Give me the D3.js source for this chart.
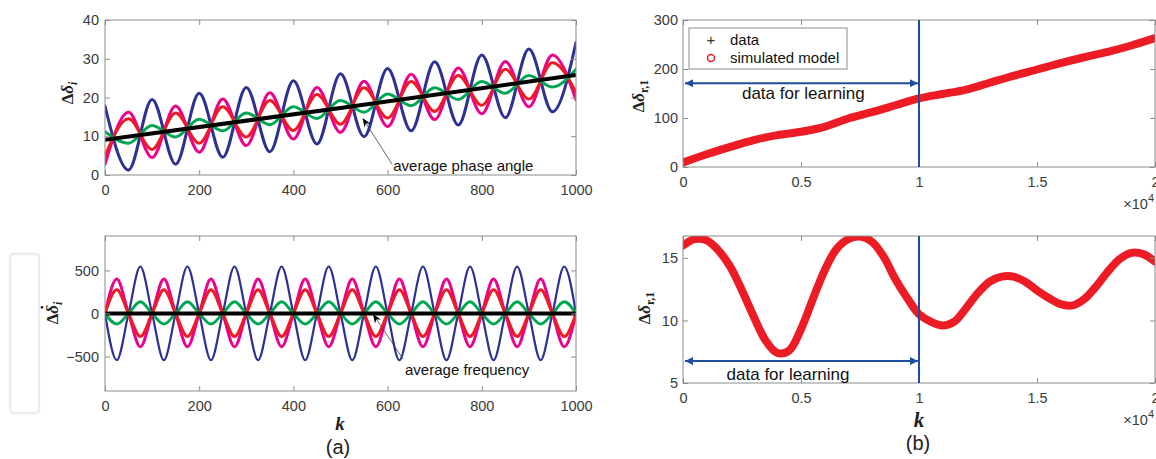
<!DOCTYPE html>
<html>
<head>
<meta charset="utf-8">
<script src="https://cdn.jsdelivr.net/npm/d3@7"></script>
<style>
  body { margin: 0; background: #fff; }
  svg text { font-family: "Liberation Sans", Arial, Helvetica, sans-serif; }
</style>
</head>
<body>
<svg id="chart" width="1156" height="459"></svg>
<script>
// ---- (a) top: phase angles, read at the extrema (every 50 steps)
const kPhase = [0,50,100,150,200,250,300,350,400,450,500,550,600,650,700,750,800,850,900,950,1000];
const phaseBlue    = [17.8,1.3,19.5,2.8,21.1,4.6,22.6,6.0,24.3,8.0,26.1,9.9,27.5,11.4,29.2,12.9,31.0,14.8,32.5,16.3,34.2];
const phaseMagenta = [2.8,16.2,4.5,17.8,5.9,19.6,7.6,21.2,9.3,22.6,11.0,24.2,12.5,26.0,14.3,27.6,15.8,29.3,17.6,31.0,19.4];
const phaseRed     = [4.9,14.5,6.6,16.0,8.2,17.6,9.8,19.2,11.5,20.8,13.1,22.5,14.7,24.1,16.4,25.7,18.0,27.3,19.6,29.0,21.3];
const phaseGreen   = [11.2,8.2,12.8,9.8,14.4,11.4,16.0,13.0,17.6,14.6,19.2,16.2,20.9,17.9,22.5,19.5,24.1,21.1,25.7,22.7,27.3];
const kAvg = [0, 500, 1000];
const phaseAvg = [9.1, 17.3, 25.8];

// ---- (a) bottom: frequencies, read at zeros and extrema (every 25 steps)
const kFreq = [0,25,50,75,100,125,150,175,200,225,250,275,300,325,350,375,400,425,450,475,500,
               525,550,575,600,625,650,675,700,725,750,775,800,825,850,875,900,925,950,975,1000];
const freqBlue    = [0,-542,0,546,0,-542,0,546,0,-542,0,546,0,-542,0,546,0,-542,0,546,0,-542,0,546,0,-542,0,546,0,-542,0,546,0,-542,0,546,0,-542,0,546,0];
const freqMagenta = [0,400,0,-387,0,400,0,-387,0,400,0,-387,0,400,0,-387,0,400,0,-387,0,400,0,-387,0,400,0,-387,0,400,0,-387,0,400,0,-387,0,400,0,-387,0];
const freqRed     = [0,276,0,-267,0,276,0,-267,0,276,0,-267,0,276,0,-267,0,276,0,-267,0,276,0,-267,0,276,0,-267,0,276,0,-267,0,276,0,-267,0,276,0,-267,0];
const freqGreen   = [0,-123,0,136,0,-123,0,136,0,-123,0,136,0,-123,0,136,0,-123,0,136,0,-123,0,136,0,-123,0,136,0,-123,0,136,0,-123,0,136,0,-123,0,136,0];
const freqAvg = [0, 0];
const kFreqAvg = [0, 1000];

// ---- (b) top: cumulative angle, every 1000 steps
const kTop = [0,1000,2000,3000,4000,5000,6000,7000,8000,9000,10000,11000,12000,13000,14000,15000,16000,17000,18000,19000,20000];
const angleTop = [9,26,41,55,65,72,82,99,112,126,140,149,158,172,186,199,212,224,235,248,263];

// ---- (b) bottom: every 500 steps
const kBot = [0,500,1000,1500,2000,2500,3000,3500,4000,4500,5000,5500,6000,6500,7000,7500,8000,8500,9000,9500,10000,
              10500,11000,11500,12000,12500,13000,13500,14000,14500,15000,15500,16000,16500,17000,17500,18000,18500,19000,19500,20000];
const angleBot = [16.0,16.5,16.4,15.6,14.3,12.4,10.3,8.4,7.4,7.6,9.3,11.7,14.0,15.7,16.5,16.7,16.3,15.1,13.3,11.8,10.5,
                  9.9,9.6,9.9,11.0,12.2,13.1,13.5,13.5,13.1,12.4,11.8,11.3,11.2,11.7,12.7,13.9,14.9,15.4,15.3,14.7];

const learnEnd = 10000;

const svg = d3.select('#chart');
const defs = svg.append('defs');

// arrow heads
defs.append('marker').attr('id', 'blackHead')
    .attr('viewBox', '0 0 10 10').attr('refX', 9).attr('refY', 5)
    .attr('markerWidth', 9).attr('markerHeight', 9).attr('markerUnits', 'userSpaceOnUse')
    .attr('orient', 'auto')
  .append('path').attr('d', 'M0,1 L10,5 L0,9 L3,5 Z').attr('fill', '#000');
defs.append('marker').attr('id', 'blueHead')
    .attr('viewBox', '0 0 10 10').attr('refX', 10).attr('refY', 5)
    .attr('markerWidth', 10).attr('markerHeight', 8).attr('markerUnits', 'userSpaceOnUse')
    .attr('orient', 'auto-start-reverse')
  .append('path').attr('d', 'M0,0 L10,5 L0,10 Z').attr('fill', '#1d4f9e');

class Panel {

  constructor(_config) {
    this.config = {
      id: _config.id,
      left: _config.left,
      top: _config.top,
      width: _config.width,
      height: _config.height,
      xDomain: _config.xDomain,
      yDomain: _config.yDomain,
      xTicks: _config.xTicks,
      yTicks: _config.yTicks,
      xFormat: _config.xFormat || (d => d),
      yPad: _config.yPad || 6
    };
    this.initVis();
  }

  initVis() {
    let vis = this;
    let c = vis.config;

    vis.xScale = d3.scaleLinear().domain(c.xDomain).range([0, c.width]);
    vis.yScale = d3.scaleLinear().domain(c.yDomain).range([c.height, 0]);

    vis.g = svg.append('g').attr('transform', `translate(${c.left},${c.top})`);

    defs.append('clipPath').attr('id', 'clip-' + c.id)
      .append('rect').attr('width', c.width).attr('height', c.height);

    vis.plot = vis.g.append('g').attr('clip-path', `url(#clip-${c.id})`);

    // axes, ticks pointing inwards on all four sides
    const styleAxis = sel => {
      sel.select('.domain').remove();
      sel.selectAll('line').attr('stroke', '#8c8c8c');
      sel.selectAll('text').attr('fill', '#3a3a3a').style('font-size', '14.5px');
    };
    vis.g.append('g').attr('transform', `translate(0,${c.height})`)
      .call(d3.axisBottom(vis.xScale).tickValues(c.xTicks).tickFormat(c.xFormat).tickSizeInner(-5).tickSizeOuter(0).tickPadding(10))
      .call(styleAxis);
    vis.g.append('g')
      .call(d3.axisTop(vis.xScale).tickValues(c.xTicks).tickFormat('').tickSizeInner(-5).tickSizeOuter(0))
      .call(styleAxis);
    vis.g.append('g')
      .call(d3.axisLeft(vis.yScale).tickValues(c.yTicks).tickSizeInner(-5).tickSizeOuter(0).tickPadding(c.yPad))
      .call(styleAxis);
    vis.g.append('g').attr('transform', `translate(${c.width},0)`)
      .call(d3.axisRight(vis.yScale).tickValues(c.yTicks).tickFormat('').tickSizeInner(-5).tickSizeOuter(0))
      .call(styleAxis);

    vis.g.append('rect')
      .attr('width', c.width).attr('height', c.height)
      .attr('fill', 'none').attr('stroke', '#8c8c8c').attr('stroke-width', 1);
  }

  line(xs, ys, color, width, curve) {
    let vis = this;
    const pts = xs.map((x, i) => [x, ys[i]]);
    vis.plot.append('path')
      .datum(pts)
      .attr('fill', 'none')
      .attr('stroke', color)
      .attr('stroke-width', width)
      .attr('stroke-linecap', 'round')
      .attr('stroke-linejoin', 'round')
      .attr('d', d3.line().x(d => vis.xScale(d[0])).y(d => vis.yScale(d[1])).curve(curve || d3.curveMonotoneX));
  }

  // rotated label "Δδ_sub", optionally with a dot over the δ
  yLabel(x, y, sub, dotted) {
    let lg = svg.append('g').attr('transform', `translate(${x},${y}) rotate(-90)`);
    let t = lg.append('text')
      .attr('text-anchor', 'middle')
      .style('font-family', '"Liberation Serif", "DejaVu Serif", serif')
      .style('font-weight', 'bold')
      .style('font-size', '17px')
      .attr('fill', '#222');
    t.append('tspan').text('Δ');
    t.append('tspan').text('δ').style('font-style', 'italic');
    t.append('tspan').text(sub.t).attr('dy', 4).style('font-size', '12px')
      .style('font-style', sub.italic ? 'italic' : 'normal');
    if (dotted) {
      const box = t.node().getExtentOfChar(1);
      lg.append('circle')
        .attr('cx', box.x + box.width / 2 + 2).attr('cy', box.y - 1)
        .attr('r', 1.4).attr('fill', '#222');
    }
  }
}

const blue = '#2e3192', magenta = '#ec008c', red = '#ed1c24', green = '#00a651';

// ---------- (a) top
const pa1 = new Panel({ id: 'a1', left: 105, top: 20, width: 471, height: 155,
  xDomain: [0, 1000], yDomain: [0, 40], xTicks: [0,200,400,600,800,1000], yTicks: [0,10,20,30,40] });
pa1.line(kPhase, phaseBlue, blue, 3);
pa1.line(kPhase, phaseMagenta, magenta, 3);
pa1.line(kPhase, phaseRed, red, 3);
pa1.line(kPhase, phaseGreen, green, 3);
pa1.line(kAvg, phaseAvg, '#000', 4, d3.curveLinear);
pa1.yLabel(73, 93, {t: 'i', italic: true}, false);

// ---------- (a) bottom
const pa2 = new Panel({ id: 'a2', left: 105, top: 236, width: 471, height: 155,
  xDomain: [0, 1000], yDomain: [-900, 900], xTicks: [0,200,400,600,800,1000], yTicks: [-500,0,500] });
pa2.line(kFreq, freqBlue, blue, 2.2);
pa2.line(kFreq, freqMagenta, magenta, 3);
pa2.line(kFreq, freqRed, red, 3);
pa2.line(kFreq, freqGreen, green, 3);
pa2.line(kFreqAvg, freqAvg, '#000', 4, d3.curveLinear);
pa2.yLabel(58, 313, {t: 'i', italic: true}, true);

// ---------- (b) top
const xFmt = d => d / 10000;
const pb1 = new Panel({ id: 'b1', left: 683, top: 20, width: 472, height: 147,
  xDomain: [0, 20000], yDomain: [0, 300], xTicks: [0,5000,10000,15000,20000], yTicks: [0,100,200,300],
  xFormat: xFmt, yPad: 5 });
pb1.line(kTop, angleTop, red, 8, d3.curveCatmullRom);
pb1.yLabel(644, 96, {t: 'r,1', italic: false}, false);

// ---------- (b) bottom
const pb2 = new Panel({ id: 'b2', left: 683, top: 236, width: 472, height: 147,
  xDomain: [0, 20000], yDomain: [5, 16.75], xTicks: [0,5000,10000,15000,20000], yTicks: [5,10,15],
  xFormat: xFmt, yPad: 5 });
pb2.line(kBot, angleBot, red, 8, d3.curveCatmullRom);
pb2.yLabel(650, 308, {t: 'r,1', italic: false}, false);

// vertical learning limit and double arrows
[[pb1, 171, 5100, 139], [pb2, 6.75, 4450, 5.25]].forEach(([p, yv, tx, ty]) => {
  p.g.append('line')
    .attr('x1', p.xScale(learnEnd)).attr('x2', p.xScale(learnEnd))
    .attr('y1', 0).attr('y2', p.config.height)
    .attr('stroke', '#1d4f9e').attr('stroke-width', 2);
  p.g.append('line')
    .attr('x1', p.xScale(0) + 2).attr('x2', p.xScale(learnEnd) - 1)
    .attr('y1', p.yScale(yv)).attr('y2', p.yScale(yv))
    .attr('stroke', '#1d4f9e').attr('stroke-width', 2)
    .attr('marker-start', 'url(#blueHead)').attr('marker-end', 'url(#blueHead)');
  p.g.append('text')
    .attr('x', p.xScale(tx)).attr('y', p.yScale(ty))
    .attr('text-anchor', 'middle').style('font-size', '17px').attr('fill', '#111')
    .text('data for learning');
  p.g.append('text')
    .attr('x', p.config.width - 1).attr('y', p.config.height + 42)
    .attr('text-anchor', 'end').style('font-size', '14.5px').attr('fill', '#3a3a3a')
    .text('×10')
    .append('tspan').attr('dy', -7).style('font-size', '11px').text('4');
});

// legend
const leg = pb1.g.append('g').attr('transform', 'translate(6,8)');
leg.append('rect').attr('width', 158).attr('height', 41)
  .attr('fill', '#fff').attr('stroke', '#8c8c8c').attr('stroke-width', 1);
leg.append('text').attr('x', 22).attr('y', 17).attr('text-anchor', 'middle')
  .style('font-size', '15px').attr('fill', '#333').text('+');
leg.append('circle').attr('cx', 22).attr('cy', 30).attr('r', 3.5)
  .attr('fill', 'none').attr('stroke', red).attr('stroke-width', 1.5);
leg.append('text').attr('x', 41).attr('y', 17).style('font-size', '15px').attr('fill', '#111').text('data');
leg.append('text').attr('x', 41).attr('y', 35).style('font-size', '15px').attr('fill', '#111').text('simulated model');

// annotations in (a)
const annotate = (p, x1, y1, x2, y2, label, tx, ty) => {
  p.g.append('line')
    .attr('x1', p.xScale(x1)).attr('y1', p.yScale(y1))
    .attr('x2', p.xScale(x2)).attr('y2', p.yScale(y2))
    .attr('stroke', '#444').attr('stroke-width', 0.8)
    .attr('marker-end', 'url(#blackHead)');
  p.g.append('text')
    .attr('x', p.xScale(tx)).attr('y', p.yScale(ty))
    .style('font-size', '15px').attr('fill', '#111')
    .text(label);
};
annotate(pa1, 610, 2.7, 548, 14.5, 'average phase angle', 612, 1.0);
annotate(pa2, 633, -530, 570, -15, 'average frequency', 637, -710);

// axis names and panel letters
const kLabel = (x, y, size) => svg.append('text')
  .attr('x', x).attr('y', y).attr('text-anchor', 'middle')
  .style('font-family', '"Liberation Serif", "DejaVu Serif", serif')
  .style('font-style', 'italic').style('font-weight', 'bold').style('font-size', size)
  .attr('fill', '#222').text('k');
kLabel(340, 430, '19px');
kLabel(919, 427, '21px');

svg.append('text').attr('x', 338).attr('y', 454).attr('text-anchor', 'middle')
  .style('font-size', '20px').attr('fill', '#222').text('(a)');
svg.append('text').attr('x', 918).attr('y', 450).attr('text-anchor', 'middle')
  .style('font-size', '20px').attr('fill', '#222').text('(b)');

// faint frame at the far left
svg.append('rect').attr('x', 10).attr('y', 254).attr('width', 29).attr('height', 159)
  .attr('rx', 3).attr('fill', 'none').attr('stroke', '#eceeee').attr('stroke-width', 2.5);
</script>
</body>
</html>
